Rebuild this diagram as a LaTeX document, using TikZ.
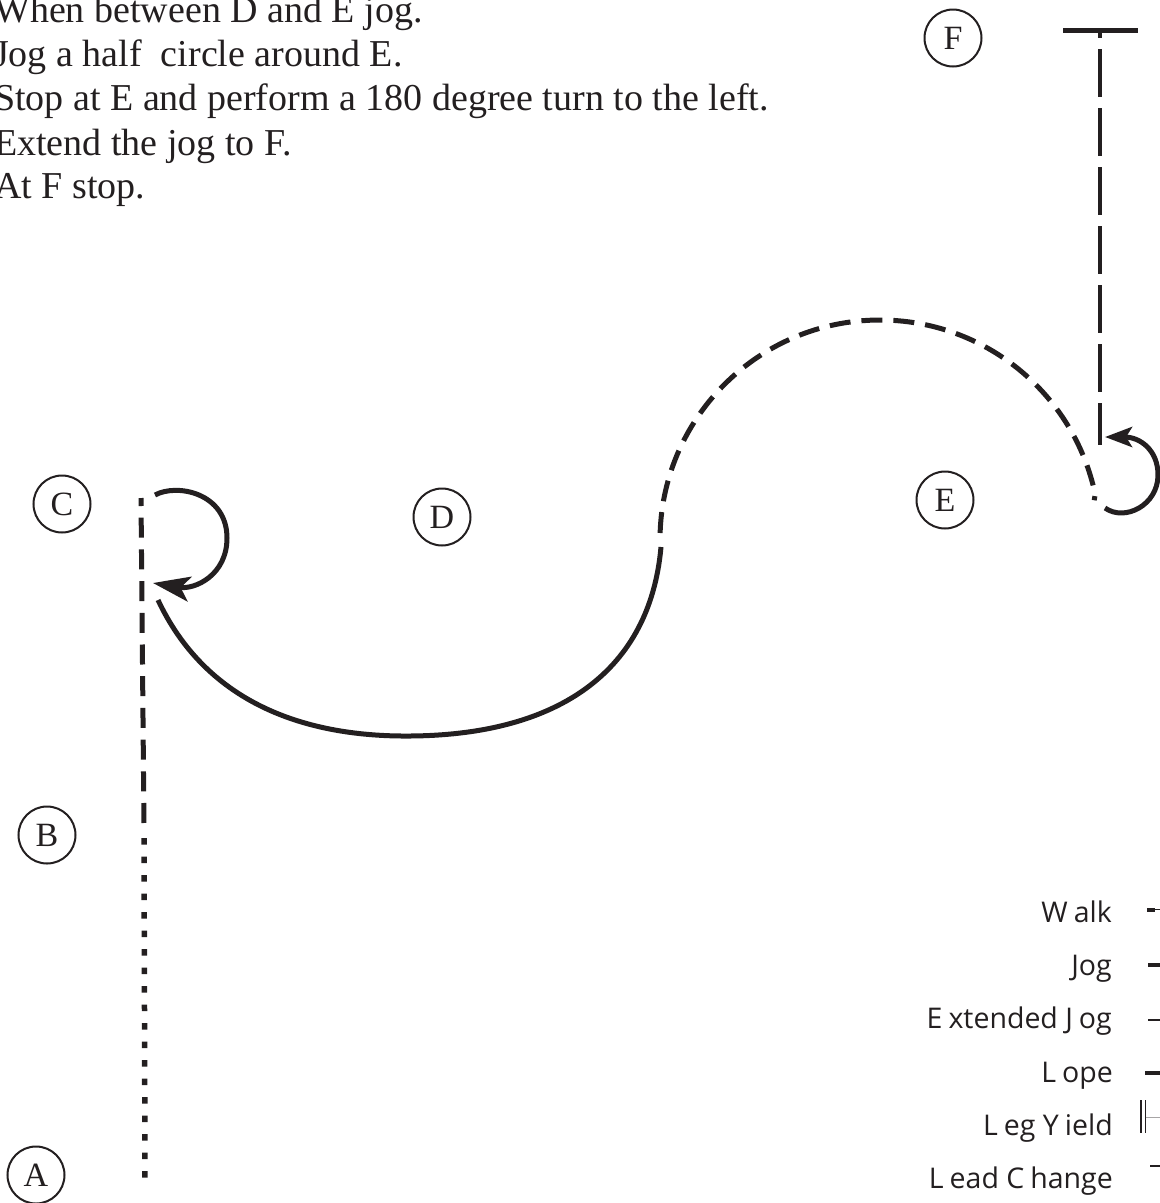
\documentclass[tikz,border=0pt]{standalone}
\usepackage{fontspec}
\setmainfont{Liberation Serif}
\newfontfamily\legendfont{Open Sans}
\usetikzlibrary{arrows.meta}
\definecolor{ink}{RGB}{35,31,32}
\begin{document}
\begin{tikzpicture}[x=1pt,y=1pt,
  instr/.style={anchor=base west, inner sep=0pt, font=\fontsize{38}{44}\selectfont, text=ink},
  station/.style={circle, draw=ink, line width=2pt, minimum size=57pt, inner sep=0pt, font=\fontsize{34}{34}\selectfont, text=ink},
  solidpath/.style={draw=ink, line width=5pt},
  jogline/.style={draw=ink, line width=5pt, dash pattern=on 20pt off 11.7pt},
  jogarc/.style={draw=ink, line width=5pt, dash pattern=on 21pt off 11pt},
  walkline/.style={draw=ink, line width=5.5pt, dash pattern=on 6.5pt off 12pt},
  extjog/.style={draw=ink, line width=4.5pt, dash pattern=on 48pt off 11pt},
  legtext/.style={anchor=base east, inner sep=0pt, font=\legendfont\fontsize{28.5}{28.5}\selectfont, text=ink},
  thicksample/.style={draw=ink, line width=4pt},
  thinsample/.style={draw=ink, line width=1.3pt},
  bigarrow/.style={-{Stealth[length=37pt,width=25pt,inset=9pt]}},
  smallarrow/.style={-{Stealth[length=27pt,width=20pt,inset=6pt]}},
]
\clip (0,-1203) rectangle (1160,0);

% instructions
\node[instr] (t1) at (-6,-22) {When between D and E jog.};
\node[instr] (t2) at (-6,-66) {Jog a half~ circle around E.};
\node[instr] (t3) at (-6,-110) {Stop at E and perform a 180 degree turn to the left.};
\node[instr] (t4) at (-6,-155) {Extend the jog to F.};
\node[instr] (t5) at (-6,-198) {At F stop.};

% stations
\node[station] (A) at (36,-1175) {A};
\node[station] (B) at (47,-835) {B};
\node[station] (C) at (62,-504) {C};
\node[station] (D) at (442,-517) {D};
\node[station] (E) at (945,-500) {E};
\node[station] (F) at (953,-38) {F};

% path coordinates
\coordinate (pA) at (145,-1180);
\coordinate (pB1) at (144,-838);
\coordinate (pB2) at (144,-828);
\coordinate (pC) at (141,-498);
\coordinate (cl1) at (155,-495);
\coordinate (cl2) at (227,-538);
\coordinate (cl3) at (153,-583);
\coordinate (s1) at (158,-600);
\coordinate (s2) at (410,-736);
\coordinate (s3) at (661,-547);
\coordinate (a1) at (660,-540);
\coordinate (el1) at (1105,-508);
\coordinate (el2) at (1158,-475);
\coordinate (el3) at (1105,-437);
\coordinate (f1) at (1100,-445);
\coordinate (f2) at (1100,-30);
\coordinate (bl) at (1063,-30);
\coordinate (br) at (1138,-30);

% A to B walk, B to C jog
\draw[walkline] (pB1) -- (pA);
\draw[jogline, dash phase=12pt] (pC) -- (pB2);
% turn at C
\draw[solidpath, bigarrow] (cl1) .. controls (177,-483) and (227,-493) .. (cl2)
  .. controls (227,-575) and (195,-590) .. (cl3);
% lope curve toward D
\draw[solidpath] (s1) .. controls (205,-700) and (300,-737) .. (s2)
  .. controls (560,-735) and (650,-670) .. (s3);
% jog half circle around E
\draw[jogarc, dash phase=25pt] (a1) arc[start angle=180, end angle=12, radius=220pt]
  -- ++(-1,-6);
% turn at E
\draw[solidpath, smallarrow] (el1) .. controls (1125,-522) and (1158,-505) .. (el2)
  .. controls (1158,-450) and (1140,-437) .. (el3);
% extended jog to F
\draw[extjog, dash phase=40pt] (f2) -- (f1);
\draw[draw=ink, line width=5pt] (bl) -- (br);

% legend
\node[legtext] (lw) at (1112,-922) {W\kern6pt alk};
\node[legtext] (lj) at (1112,-975) {Jog};
\node[legtext] (le) at (1112,-1028) {E\kern6pt xtended J\kern6pt og};
\node[legtext] (ll) at (1113,-1082) {L\kern6pt ope};
\node[legtext] (ly) at (1113,-1135) {L\kern6pt eg Y\kern6pt ield};
\node[legtext] (lc) at (1113,-1188) {L\kern6pt ead C\kern6pt hange};

\draw[thicksample] (1147,-910) -- (1155,-910);
\draw[thinsample, line width=0.8pt] (1155,-909.5) -- (1160,-909.5);
\draw[thicksample] (1148,-965) -- (1160,-965);
\draw[thinsample] (1148,-1020) -- (1160,-1020);
\draw[thicksample, line width=4.5pt] (1145,-1073) -- (1160,-1073);
\draw[thinsample, line width=1.1pt] (1141,-1100) -- (1141,-1133);
\draw[thinsample, line width=1.1pt] (1145.5,-1100) -- (1145.5,-1133);
\draw[draw=ink!40, line width=0.8pt] (1145.5,-1117) -- (1160,-1117);
\draw[thinsample] (1150,-1166) -- (1160,-1166);
\end{tikzpicture}
\end{document}
